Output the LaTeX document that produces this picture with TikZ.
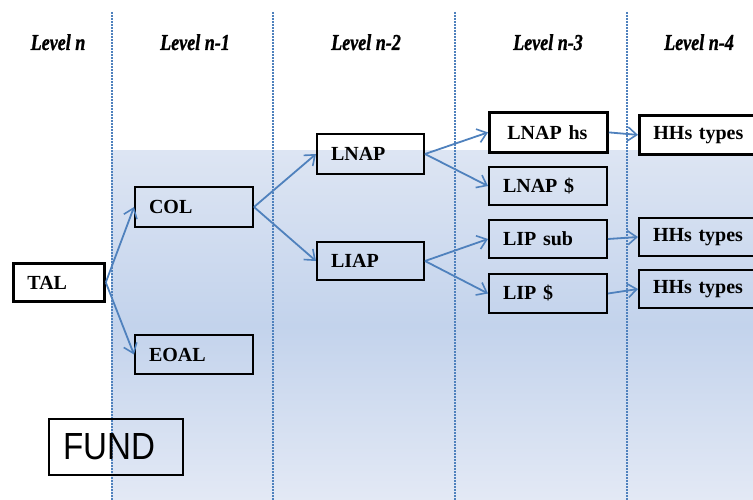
\documentclass[tikz,border=0pt]{standalone}
\usepackage{fontspec}
\setmainfont{Liberation Serif}
\newfontfamily\boxfont{Liberation Serif}[WordSpace=0.6]
\newfontfamily\lvlfont{Liberation Serif}[FakeBold=1.2]
\newfontfamily\fundfont{Liberation Sans}
\usetikzlibrary{arrows.meta}
\definecolor{arrowblue}{HTML}{4F81BD}
\definecolor{shtop}{HTML}{DDE5F3}
\definecolor{shmid}{HTML}{C3D3EC}
\definecolor{shbot}{HTML}{E3E9F5}
\tikzset{
  bx/.style={draw=black, line width=2pt, anchor=north west, inner xsep=14pt, inner ysep=0pt,
    font=\fontsize{20}{22}\selectfont\boxfont\bfseries, align=left},
  thickbx/.style={bx, line width=2.8pt},
  lvl/.style={font=\fontsize{19}{22}\selectfont\lvlfont\bfseries\itshape, anchor=base},
  conn/.style={draw=arrowblue, line width=1.8pt, -{Straight Barb[length=9pt,width=14pt,line width=1.6pt]}},
  sep/.style={draw=arrowblue, line width=1.6pt, dash pattern=on 2pt off 1pt}
}
\begin{document}
\begin{tikzpicture}[x=1pt,y=-1pt]
\useasboundingbox (0,0) rectangle (753,500);
\clip (0,0) rectangle (753,500);
% background shading
\shade[top color=shtop, bottom color=shbot, middle color=shmid] (111,151) rectangle (753,500);
% separators
\foreach \xx in {112,273,455,627}
  \draw[sep] (\xx,12) -- (\xx,500);
% level labels
\node[lvl] (l0) at (58,50) {\scalebox{0.95}[1.2]{Level n}};
\node[lvl] (l1) at (195,50) {\scalebox{0.95}[1.2]{Level n-1}};
\node[lvl] (l2) at (366,50) {\scalebox{0.95}[1.2]{Level n-2}};
\node[lvl] (l3) at (548,50) {\scalebox{0.95}[1.2]{Level n-3}};
\node[lvl] (l4) at (699,50) {\scalebox{0.95}[1.2]{Level n-4}};
% boxes
\node[thickbx, fill=white, minimum width=91pt, text width=63pt, minimum height=38pt] (tal) at (12,262) {TAL};
\node[bx, minimum width=118pt, text width=90pt, minimum height=40pt] (col) at (134,186) {COL};
\node[bx, minimum width=118pt, text width=90pt, minimum height=39pt] (eoal) at (134,334) {EOAL};
\node[draw=black, line width=2pt, anchor=north west, minimum width=134pt, minimum height=56pt, inner xsep=14pt, text width=106pt, align=left,
  font=\fontsize{36}{38}\selectfont\fundfont] (fund) at (48,418) {\scalebox{0.92}[1.05]{FUND}};
\node[bx, minimum width=107pt, text width=79pt, minimum height=40pt] (lnap) at (316,133) {LNAP};
\node[bx, minimum width=107pt, text width=79pt, minimum height=38pt] (liap) at (316,241) {LIAP};
\node[thickbx, fill=white, minimum width=118pt, minimum height=40pt, inner xsep=18pt, text width=82pt] (lnaphs) at (488,111) {LNAP hs};
\node[bx, minimum width=118pt, text width=90pt, minimum height=38pt] (lnapd) at (488,166) {LNAP \$};
\node[bx, minimum width=118pt, text width=90pt, minimum height=38pt] (lipsub) at (488,219) {LIP sub};
\node[bx, minimum width=118pt, text width=90pt, minimum height=39pt] (lipd) at (488,273) {LIP \$};
\node[thickbx, fill=white, minimum width=125pt, text width=97pt, minimum height=39pt] (hh1) at (638,114) {HHs types};
\node[bx, minimum width=125pt, text width=97pt, minimum height=38pt] (hh2) at (638,217) {HHs types};
\node[bx, minimum width=125pt, text width=97pt, minimum height=38pt] (hh3) at (638,269) {HHs types};
% connectors
\draw[conn] (tal.east) -- (col.west);
\draw[conn] (tal.east) -- (eoal.west);
\draw[conn] (col.east) -- (lnap.west);
\draw[conn] (col.east) -- (liap.west);
\draw[conn] (lnap.east) -- (lnaphs.west);
\draw[conn] (lnap.east) -- (lnapd.west);
\draw[conn] (liap.east) -- (lipsub.west);
\draw[conn] (liap.east) -- (lipd.west);
\draw[conn] (lnaphs.east) -- (hh1.west);
\draw[conn] (lipsub.east) -- (hh2.west);
\draw[conn] (lipd.east) -- (hh3.west);
\end{tikzpicture}
\end{document}
